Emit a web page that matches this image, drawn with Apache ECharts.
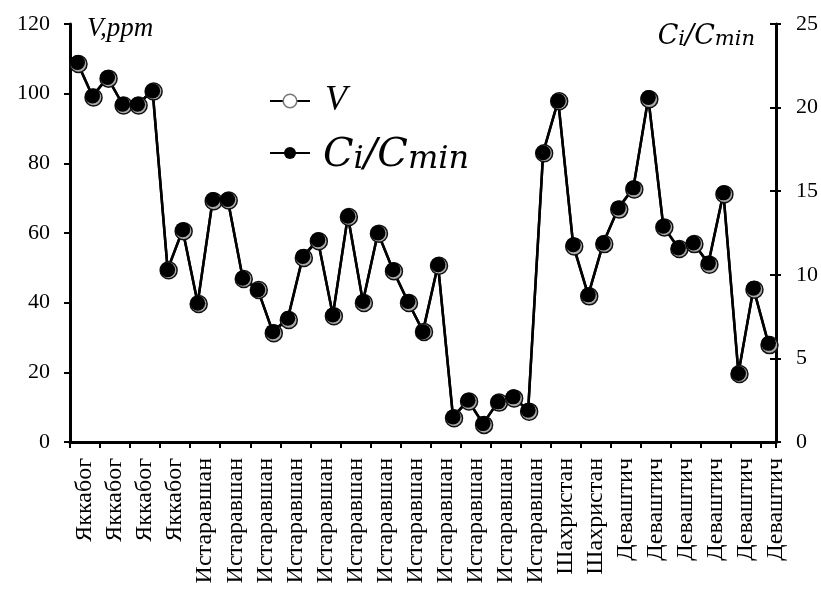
<!DOCTYPE html>
<html><head><meta charset="utf-8">
<script src="https://cdn.jsdelivr.net/npm/echarts@6/dist/echarts.min.js"></script>
<style>html,body{margin:0;padding:0;background:#fff}#c{width:821px;height:590px}</style>
</head><body><div id="c"></div>
<script>
const tickLabels = ['Яккабог','Яккабог','Яккабог','Яккабог',
  'Истаравшан','Истаравшан','Истаравшан','Истаравшан','Истаравшан','Истаравшан',
  'Истаравшан','Истаравшан','Истаравшан','Истаравшан','Истаравшан','Истаравшан',
  'Шахристан','Шахристан',
  'Деваштич','Деваштич','Деваштич','Деваштич','Деваштич','Деваштич'];
const vValues = [108.8, 99.2, 104.6, 96.9, 96.9, 100.9, 49.6, 60.8, 39.9, 69.4, 69.6, 47.1, 43.9,
  31.5, 35.3, 53.1, 57.9, 36.4, 64.9, 40.2, 60.1, 49.3, 40.2, 31.9, 50.9,
  7.1, 11.9, 5.2, 11.6, 12.8, 9.0, 83.2, 98.1, 56.4, 42.1, 57.1, 67.0, 72.8, 98.7,
  61.9, 55.7, 57.1, 51.2, 71.4, 19.8, 44.0, 28.1];
const ciValues = [22.7, 20.7, 21.8, 20.2, 20.2, 21.0, 10.3, 12.7, 8.3, 14.5, 14.5, 9.8, 9.1,
  6.6, 7.4, 11.1, 12.1, 7.6, 13.5, 8.4, 12.5, 10.3, 8.4, 6.6, 10.6,
  1.5, 2.5, 1.1, 2.4, 2.7, 1.9, 17.3, 20.4, 11.8, 8.8, 11.9, 14.0, 15.2, 20.6,
  12.9, 11.6, 11.9, 10.7, 14.9, 4.1, 9.2, 5.9];
const leftTicks = {min: 0, max: 120, interval: 20};
const rightTicks = {min: 0, max: 25, interval: 5};
const categories = vValues.map((_, i) => tickLabels[Math.floor(i / 2)]);

const SERIF = 'Liberation Serif';
const MATH = 'DejaVu Serif';
const chart = echarts.init(document.getElementById('c'), null, {renderer: 'canvas'});
const axisLine = {show: true, lineStyle: {color: '#000', width: 3}};
chart.setOption({
  animation: false,
  backgroundColor: '#fff',
  grid: {left: 70, right: 45, top: 24, bottom: 148, containLabel: false},
  legend: [
    {data: [{name: 'V', itemStyle: {color: '#fff', borderColor: '#777', borderWidth: 1.5}}],
     left: 264, top: 78, itemWidth: 40, itemHeight: 17, selectedMode: false,
     textStyle: {fontFamily: SERIF, fontStyle: 'italic', fontSize: 36, color: '#000', padding: [0, 0, 0, 10]}},
    {data: ['Ci/Cmin'], left: 264, top: 131, itemWidth: 40, itemHeight: 15, selectedMode: false,
     formatter: () => '{c|C}{s|i}{c|/C}{s|min}',
     textStyle: {color: '#000', padding: [0, 0, 0, 8],
       rich: {c: {fontFamily: MATH, fontStyle: 'italic', fontSize: 40, color: '#000', lineHeight: 46, verticalAlign: 'bottom'},
              s: {fontFamily: MATH, fontStyle: 'italic', fontSize: 32, color: '#000', lineHeight: 40, verticalAlign: 'bottom'}}}}
  ],
  xAxis: [
    {type: 'category', data: categories, boundaryGap: true, axisLine: axisLine,
     axisTick: {show: true, interval: (i) => i % 2 === 0, length: 6, lineStyle: {color: '#000', width: 2}},
     axisLabel: {show: false}, splitLine: {show: false}},
    {type: 'value', min: 0, max: vValues.length, interval: 1, position: 'bottom',
     axisLine: {show: false}, axisTick: {show: false}, splitLine: {show: false},
     axisLabel: {show: true, rotate: 90, margin: 16, fontFamily: SERIF, fontSize: 24, color: '#000',
       formatter: (v) => (v % 2 === 1 ? tickLabels[(v - 1) / 2] : '')}}
  ],
  yAxis: [
    {type: 'value', position: 'left', ...leftTicks, axisLine: axisLine,
     axisTick: {show: true, length: 6, lineStyle: {color: '#000', width: 2}},
     axisLabel: {margin: 20, fontFamily: SERIF, fontSize: 22, color: '#000'}, splitLine: {show: false}},
    {type: 'value', position: 'right', ...rightTicks, axisLine: axisLine,
     axisTick: {show: true, length: 5, lineStyle: {color: '#000', width: 2}},
     axisLabel: {margin: 20, fontFamily: SERIF, fontSize: 22, color: '#000'}, splitLine: {show: false}},
    {type: 'value', position: 'right', ...rightTicks, axisLine: {show: false},
     axisTick: {show: true, inside: true, length: 6, lineStyle: {color: '#000', width: 2}},
     axisLabel: {show: false}, splitLine: {show: false}}
  ],
  graphic: [
    {type: 'text', left: 87, top: 15, style: {text: 'V,ppm', font: 'italic 27px "Liberation Serif"', fill: '#000'}},
    {type: 'text', right: 66, top: 23, style: {text: '{c|C}{s|i}{c|/C}{s|min}', fill: '#000',
      rich: {c: {fontFamily: MATH, fontStyle: 'italic', fontSize: 27, lineHeight: 30, verticalAlign: 'bottom'},
             s: {fontFamily: MATH, fontStyle: 'italic', fontSize: 21, lineHeight: 26, verticalAlign: 'bottom'}}}}
  ],
  series: [
    {name: 'V', type: 'line', xAxisIndex: 0, yAxisIndex: 0, data: vValues,
     symbol: 'circle', symbolSize: 17, symbolOffset: [1, 1], showSymbol: true, showAllSymbol: true,
     itemStyle: {color: '#aaa', borderColor: '#111', borderWidth: 1.5},
     lineStyle: {color: '#000', width: 2.5}},
    {name: 'Ci/Cmin', type: 'line', xAxisIndex: 0, yAxisIndex: 1, data: ciValues,
     symbol: 'circle', symbolSize: 15, showSymbol: true, showAllSymbol: true,
     itemStyle: {color: '#000', borderWidth: 0},
     lineStyle: {color: '#000', width: 2.5}}
  ]
});
</script></body></html>
